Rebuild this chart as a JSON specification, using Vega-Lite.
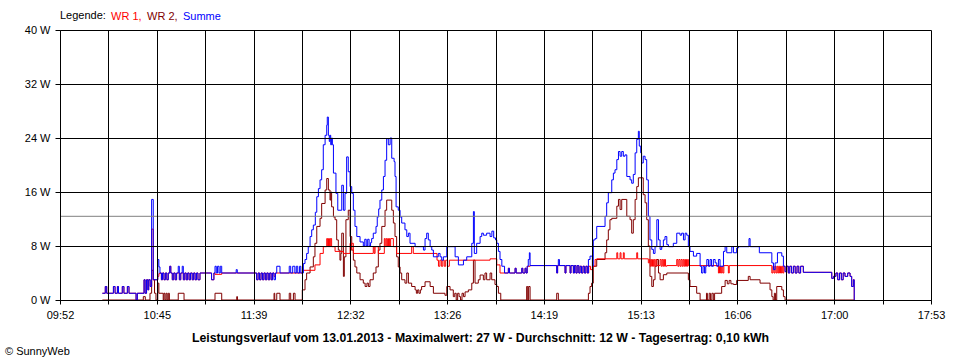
{
 "$schema": "https://vega.github.io/schema/vega-lite/v6.json",
 "width": 871,
 "height": 270,
 "autosize": "none",
 "padding": {"left": 60, "top": 30, "right": 29, "bottom": 60},
 "background": "white",
 "config": {"font": "Liberation Sans", "view": {"stroke": null}},
 "title": {"text": "© SunnyWeb", "orient": "bottom", "anchor": "start", "frame": "group", "fontSize": 11, "fontWeight": "normal", "color": "black", "offset": 3, "dx": -55},
 "datasets": {
  "S": [{"t":615.4,"w":1},{"t":617,"w":2},{"t":617.8,"w":1},{"t":621.5,"w":2},{"t":622.4,"w":1},{"t":623.7,"w":2},{"t":624.3,"w":1},{"t":626.4,"w":2},{"t":627.3,"w":1},{"t":629.2,"w":2},{"t":630.1,"w":1},{"t":634,"w":0},{"t":634.7,"w":1},{"t":638.4,"w":3},{"t":639,"w":1},{"t":639.8,"w":3},{"t":640.5,"w":1.5},{"t":641,"w":3},{"t":641.8,"w":2},{"t":642.6,"w":14.9},{"t":643.5,"w":3},{"t":646,"w":6},{"t":646.6,"w":4.9},{"t":647.2,"w":4},{"t":648,"w":3},{"t":648.6,"w":4},{"t":649.4,"w":3},{"t":650.2,"w":4},{"t":651,"w":3},{"t":651.8,"w":4},{"t":652.6,"w":5},{"t":653.2,"w":4},{"t":654,"w":3},{"t":654.8,"w":4},{"t":655.6,"w":3},{"t":656.4,"w":4},{"t":657.3,"w":5},{"t":657.9,"w":3},{"t":658.7,"w":4},{"t":659.5,"w":5},{"t":660.1,"w":3},{"t":660.9,"w":4},{"t":661.7,"w":3},{"t":662.5,"w":4},{"t":663.3,"w":3},{"t":664.1,"w":4},{"t":665,"w":3},{"t":665.8,"w":4},{"t":666.6,"w":3},{"t":667.4,"w":4},{"t":668.2,"w":3},{"t":669.3,"w":4},{"t":675.7,"w":3},{"t":677,"w":4},{"t":677.6,"w":5},{"t":678.3,"w":4},{"t":679,"w":5},{"t":679.8,"w":4},{"t":680.5,"w":5},{"t":681.3,"w":4},{"t":689.3,"w":4.5},{"t":689.9,"w":4},{"t":700.6,"w":3},{"t":701.4,"w":4},{"t":702.2,"w":3},{"t":703,"w":4},{"t":703.8,"w":3},{"t":704.6,"w":4},{"t":705.4,"w":3},{"t":706.2,"w":4},{"t":707,"w":3},{"t":707.8,"w":4},{"t":708.6,"w":3},{"t":709.4,"w":4},{"t":710.2,"w":3},{"t":711,"w":4},{"t":711.7,"w":5},{"t":713.5,"w":4},{"t":718.6,"w":5},{"t":719.4,"w":4},{"t":720.5,"w":5},{"t":721.7,"w":4},{"t":722.5,"w":5},{"t":723.3,"w":4},{"t":724.3,"w":5},{"t":725,"w":4},
   {"t":726.4,"w":5.4},{"t":727.3,"w":6},{"t":728.2,"w":6.9},{"t":729.1,"w":7.9},{"t":730.1,"w":9.4},{"t":731,"w":10.4},{"t":731.9,"w":11.1},{"t":733,"w":13},{"t":733.8,"w":15.3},{"t":734.7,"w":16.5},{"t":735.6,"w":17.8},{"t":736.5,"w":19.3},{"t":737.4,"w":23},{"t":738.4,"w":24.4},{"t":739.3,"w":25.9},{"t":739.6,"w":27.1},{"t":740.2,"w":24.4},{"t":740.7,"w":23.5},{"t":741.1,"w":24.4},{"t":741.5,"w":23},{"t":742,"w":24},{"t":742.4,"w":23},{"t":743,"w":18.8},{"t":744.4,"w":15.8},{"t":745.4,"w":13.3},{"t":747.6,"w":17},{"t":748.5,"w":13.3},{"t":749.4,"w":15.8},{"t":750.3,"w":21.2},{"t":751.2,"w":19},{"t":752.2,"w":16.8},{"t":753.1,"w":15.8},{"t":754,"w":13.3},{"t":754.9,"w":10.9},{"t":755.9,"w":9.4},{"t":757.7,"w":8.6},{"t":759.5,"w":8},{"t":760.3,"w":9},{"t":761.1,"w":8},{"t":761.9,"w":9},{"t":762.7,"w":8},{"t":763.5,"w":8.5},{"t":764.1,"w":9.1},{"t":765,"w":9.9},{"t":766.5,"w":10.9},{"t":767.2,"w":12.3},{"t":768,"w":13.5},{"t":768.7,"w":14.8},{"t":769.7,"w":16.3},{"t":770.6,"w":18.3},{"t":771.5,"w":20.7},{"t":772.4,"w":23.9},{"t":773.3,"w":23},{"t":774.3,"w":24},{"t":775.2,"w":21},{"t":776.5,"w":20.5},{"t":777,"w":18.3},{"t":777.6,"w":13.8},{"t":778.8,"w":13.3},{"t":779.8,"w":12.3},{"t":780.7,"w":11.4},{"t":782.5,"w":10.4},{"t":783.5,"w":9.4},{"t":784.4,"w":9.9},{"t":785.3,"w":8.4},{"t":788.1,"w":7.9},{"t":792.7,"w":7.4},{"t":793.6,"w":9.1},{"t":794.5,"w":9.9},{"t":795.4,"w":8.9},{"t":796.4,"w":7.9},{"t":797.3,"w":7.4},{"t":798.2,"w":6.4},{"t":800.9,"w":6.9},{"t":801.9,"w":6.4},{"t":802.8,"w":5.9},{"t":803.7,"w":6.4},{"t":805.6,"w":7.9},{"t":810.2,"w":6.4},{"t":812,"w":5.2},{"t":814.8,"w":5.9},{"t":816.6,"w":6.4},{"t":819.4,"w":8.4},{"t":820.3,"w":13.1},{"t":820.8,"w":6.9},{"t":822.1,"w":8.4},{"t":824,"w":9.4},{"t":824.9,"w":9.9},{"t":825.8,"w":9.6},{"t":827.6,"w":9.9},{"t":829.5,"w":9.4},{"t":830.5,"w":10.2},{"t":831.5,"w":9.2},{"t":832.5,"w":8.9},{"t":833.2,"w":8.4},{"t":834.1,"w":7.2},{"t":835,"w":6},{"t":836,"w":5},{"t":837.5,"w":4},{"t":839.6,"w":4.7},{"t":840.2,"w":4},{"t":843.3,"w":4.7},{"t":843.9,"w":4},{"t":847,"w":4.7},{"t":847.6,"w":4},{"t":848.8,"w":4.7},{"t":849.4,"w":4},{"t":850,"w":5},{"t":850.6,"w":6},{"t":851.2,"w":7},{"t":851.6,"w":5.1},{"t":866.3,"w":4},{"t":866.8,"w":5.1},{"t":867.2,"w":6},{"t":867.8,"w":5.1},{"t":870.9,"w":4},{"t":871.4,"w":5.1},{"t":873.7,"w":4},{"t":874.2,"w":5.1},{"t":875.5,"w":4},{"t":876.1,"w":5.1},{"t":876.9,"w":4},{"t":877.6,"w":5.1},{"t":878.5,"w":4},{"t":879.2,"w":5},{"t":880,"w":4},{"t":880.8,"w":5},{"t":881.6,"w":4},{"t":882.4,"w":5},{"t":883.2,"w":4},{"t":883.8,"w":6},{"t":884.7,"w":6.5},{"t":886,"w":5},{"t":886.5,"w":8.9},{"t":887.5,"w":9.1},{"t":888.4,"w":10.9},{"t":893,"w":12.4},{"t":893.9,"w":14.4},{"t":894.8,"w":15.9},{"t":896.7,"w":17.8},{"t":897.6,"w":18.8},{"t":898.5,"w":19.3},{"t":899.5,"w":20.8},{"t":900.4,"w":22},{"t":901.3,"w":21.3},{"t":902.2,"w":22},{"t":903.1,"w":21.3},{"t":904,"w":21.5},{"t":905,"w":18.3},{"t":906.8,"w":17.8},{"t":907.7,"w":17.3},{"t":908.6,"w":18.6},{"t":909.6,"w":21.8},{"t":910.5,"w":23.8},{"t":911.4,"w":25},{"t":911.9,"w":22.8},{"t":912.7,"w":21.8},{"t":913.2,"w":20.3},{"t":914.1,"w":21.3},{"t":915.1,"w":20.8},{"t":916,"w":17.8},{"t":916.9,"w":12.4},{"t":917.8,"w":8.9},{"t":918.8,"w":7.5},{"t":919.7,"w":6.9},{"t":920.6,"w":7.9},{"t":921.6,"w":11.9},{"t":922.5,"w":8.9},{"t":923.4,"w":7.5},{"t":924.3,"w":7.9},{"t":925.2,"w":8.9},{"t":926.1,"w":9.4},{"t":927.1,"w":8.2},{"t":928,"w":7.9},{"t":930.7,"w":8.4},{"t":932.6,"w":9.9},{"t":934.4,"w":9.6},{"t":935.3,"w":9.9},{"t":936.3,"w":8.9},{"t":937.2,"w":9.9},{"t":938.1,"w":9.6},{"t":939,"w":7.9},{"t":939.9,"w":7.2},{"t":941.8,"w":6.5},{"t":943.6,"w":6.9},{"t":945.5,"w":5},{"t":946.3,"w":4},{"t":947.1,"w":5},{"t":947.9,"w":4},{"t":948.6,"w":5},{"t":949.2,"w":6},{"t":950.1,"w":5},{"t":951,"w":6},{"t":951.8,"w":5},{"t":952.8,"w":6},{"t":953.8,"w":5.5},{"t":954.7,"w":5},{"t":955.6,"w":6},{"t":956.5,"w":5},{"t":958.4,"w":7.2},{"t":959.3,"w":7.9},{"t":960.2,"w":7},{"t":963,"w":7.9},{"t":963.9,"w":7},{"t":965.7,"w":7.7},{"t":966.6,"w":7.9},{"t":972.5,"w":9.1},{"t":973.1,"w":7.9},{"t":978.2,"w":7},{"t":985.1,"w":5.5},{"t":986,"w":4.5},{"t":986.9,"w":5.5},{"t":988.2,"w":7},{"t":990.6,"w":6.5},{"t":991.5,"w":5},{"t":992.4,"w":4.2},{"t":993.3,"w":5},{"t":994.2,"w":4},{"t":995,"w":5},{"t":996,"w":4},{"t":997,"w":5},{"t":998,"w":4},{"t":999,"w":5},{"t":1000,"w":4},{"t":1001,"w":5},{"t":1002.5,"w":4.1},{"t":1018.2,"w":3.2},{"t":1019.1,"w":3.5},{"t":1020.5,"w":4},{"t":1021.5,"w":3},{"t":1022.5,"w":4},{"t":1023.5,"w":3},{"t":1024.5,"w":4},{"t":1025.5,"w":3.5},{"t":1027,"w":4},{"t":1028.3,"w":3.5},{"t":1029.2,"w":2},{"t":1030.1,"w":3},{"t":1030.6,"w":0}],
  "W1": [{"t":615.4,"w":1},{"t":617,"w":2},{"t":617.8,"w":1},{"t":621.5,"w":2},{"t":622.4,"w":1},{"t":623.7,"w":2},{"t":624.3,"w":1},{"t":626.4,"w":2},{"t":627.3,"w":1},{"t":629.2,"w":2},{"t":630.1,"w":1},{"t":634,"w":0},{"t":634.7,"w":1},{"t":638.4,"w":3},{"t":639,"w":1},{"t":639.8,"w":3},{"t":640.5,"w":1.5},{"t":641,"w":3},{"t":641.8,"w":2},{"t":642.6,"w":10.5},{"t":643.5,"w":3},{"t":646,"w":3.5},{"t":646.6,"w":3.9},{"t":647.2,"w":4},{"t":648,"w":3},{"t":648.6,"w":4},{"t":649.4,"w":3},{"t":650.2,"w":4},{"t":651,"w":3},{"t":651.8,"w":4},{"t":652.6,"w":5},{"t":653.2,"w":4},{"t":654,"w":3},{"t":654.8,"w":4},{"t":655.6,"w":3},{"t":656.4,"w":4},{"t":657.3,"w":4},{"t":657.9,"w":3},{"t":658.7,"w":4},{"t":659.5,"w":4},{"t":660.1,"w":3},{"t":660.9,"w":4},{"t":661.7,"w":3},{"t":662.5,"w":4},{"t":663.3,"w":3},{"t":664.1,"w":4},{"t":665,"w":3},{"t":665.8,"w":4},{"t":666.6,"w":3},{"t":667.4,"w":4},{"t":668.2,"w":3},{"t":669.3,"w":4},{"t":675.7,"w":3},{"t":677,"w":4},{"t":677.6,"w":3.8},{"t":681.3,"w":4},{"t":700.6,"w":3},{"t":701.4,"w":4},{"t":702.2,"w":3},{"t":703,"w":4},{"t":703.8,"w":3},{"t":704.6,"w":4},{"t":705.4,"w":3},{"t":706.2,"w":4},{"t":707,"w":3},{"t":707.8,"w":4},{"t":708.6,"w":3},{"t":709.4,"w":4},{"t":710.2,"w":3.5},{"t":711,"w":4},{"t":725,"w":4},
   {"t":725.8,"w":4.4},{"t":732.8,"w":5.2},{"t":735.6,"w":6.9},{"t":737.4,"w":7.9},{"t":739.3,"w":9.1},{"t":739.8,"w":7.9},{"t":740.3,"w":9.1},{"t":740.8,"w":7.9},{"t":741.3,"w":9.1},{"t":742,"w":7.9},{"t":743.9,"w":7.2},{"t":748.5,"w":6.9},{"t":752.2,"w":8.4},{"t":752.6,"w":7.4},{"t":753.1,"w":8.4},{"t":754,"w":6.9},{"t":765,"w":7.9},{"t":765.5,"w":6.9},{"t":766,"w":7.9},{"t":767.8,"w":6.9},{"t":771.1,"w":9.1},{"t":771.6,"w":7.9},{"t":772.2,"w":9.1},{"t":772.8,"w":8},{"t":773.4,"w":9.1},{"t":774,"w":8},{"t":774.6,"w":9.1},{"t":776.1,"w":7.9},{"t":777.9,"w":6.9},{"t":786.2,"w":7.9},{"t":787.1,"w":6.9},{"t":800.2,"w":5.9},{"t":801,"w":5},{"t":801.8,"w":5.9},{"t":802.6,"w":5},{"t":803.4,"w":5.9},{"t":804.2,"w":5},{"t":805,"w":5.9},{"t":806,"w":5},{"t":807,"w":5.9},{"t":829.5,"w":6.1},{"t":833.2,"w":5.2},{"t":835,"w":4},{"t":839.6,"w":4.7},{"t":840.2,"w":4},{"t":843.3,"w":4.7},{"t":843.9,"w":4},{"t":847,"w":4.7},{"t":847.6,"w":4},{"t":848.8,"w":4.7},{"t":849.4,"w":4},{"t":850,"w":5},{"t":851.6,"w":5.1},{"t":866.3,"w":4},{"t":866.8,"w":5.1},{"t":870.9,"w":4},{"t":871.4,"w":5.1},{"t":873.7,"w":4},{"t":874.2,"w":5.1},{"t":875.5,"w":4},{"t":876.1,"w":5.1},{"t":876.9,"w":4},{"t":877.6,"w":5.1},{"t":878.5,"w":4},{"t":879.2,"w":5},{"t":880,"w":4},{"t":880.8,"w":5},{"t":881.6,"w":4},{"t":882.4,"w":5},{"t":883.2,"w":4},{"t":884,"w":5},{"t":885,"w":4.5},{"t":886,"w":5},{"t":887.5,"w":6},{"t":888.4,"w":6.1},{"t":899.5,"w":7},{"t":900,"w":6.1},{"t":901.3,"w":7},{"t":901.8,"w":6.1},{"t":903.1,"w":7},{"t":903.6,"w":6.1},{"t":910.5,"w":7},{"t":911,"w":6.1},{"t":916.9,"w":5.5},{"t":917.5,"w":6},{"t":918,"w":5},{"t":918.6,"w":6},{"t":919.2,"w":5},{"t":919.8,"w":6},{"t":920.4,"w":5},{"t":921,"w":6},{"t":921.6,"w":5.1},{"t":923.4,"w":6},{"t":924,"w":5},{"t":924.6,"w":6},{"t":925.2,"w":5},{"t":925.8,"w":6},{"t":926.4,"w":5},{"t":927.1,"w":5.1},{"t":932.6,"w":6},{"t":933.2,"w":5},{"t":933.8,"w":6},{"t":934.4,"w":5},{"t":935,"w":6},{"t":935.6,"w":5},{"t":936.2,"w":6},{"t":936.8,"w":5},{"t":937.4,"w":6},{"t":938,"w":5},{"t":938.6,"w":6},{"t":939,"w":5.1},{"t":955.6,"w":4},{"t":956.2,"w":5},{"t":956.8,"w":4},{"t":957.4,"w":5},{"t":958,"w":4},{"t":958.6,"w":5.1},{"t":961.1,"w":4},{"t":961.6,"w":5.1},{"t":985.1,"w":4},{"t":985.7,"w":5},{"t":986.3,"w":4},{"t":986.9,"w":5},{"t":987.5,"w":4},{"t":988.1,"w":5},{"t":988.7,"w":4},{"t":989.3,"w":5},{"t":989.9,"w":4},{"t":990.5,"w":5},{"t":991.1,"w":4},{"t":991.7,"w":5},{"t":992.4,"w":4.2},{"t":993.3,"w":5},{"t":994.2,"w":4},{"t":995,"w":5},{"t":996,"w":4},{"t":997,"w":5},{"t":998,"w":4},{"t":999,"w":5},{"t":1000,"w":4},{"t":1001,"w":5},{"t":1002.5,"w":4.1},{"t":1018.2,"w":3.2},{"t":1019.1,"w":3.5},{"t":1020.5,"w":4},{"t":1021.5,"w":3},{"t":1022.5,"w":4},{"t":1023.5,"w":3},{"t":1024.5,"w":4},{"t":1025.5,"w":3.5},{"t":1027,"w":4},{"t":1028.3,"w":3.5},{"t":1029.2,"w":2},{"t":1030.1,"w":3},{"t":1030.6,"w":0}],
  "W2": [{"t":615.4,"w":0},{"t":638,"w":0.5},{"t":639.1,"w":0},{"t":641.7,"w":1},{"t":642.6,"w":4.4},{"t":643.5,"w":3},{"t":644.2,"w":1},{"t":645,"w":0},{"t":646,"w":2.5},{"t":646.6,"w":1},{"t":649,"w":0},{"t":649.4,"w":1},{"t":650,"w":0},{"t":650.6,"w":1},{"t":651.2,"w":0},{"t":651.8,"w":1},{"t":652.4,"w":0},{"t":657.3,"w":1},{"t":660.5,"w":0},{"t":677.6,"w":1},{"t":681.3,"w":0},{"t":689.6,"w":0.5},{"t":690,"w":0},{"t":710.2,"w":1},{"t":710.6,"w":0},{"t":711.7,"w":1},{"t":713.5,"w":0},{"t":718.6,"w":1},{"t":719.4,"w":0},{"t":720.9,"w":1},{"t":721.8,"w":0},{"t":725.8,"w":1.5},{"t":727.3,"w":3},{"t":728.2,"w":4},{"t":730.1,"w":4.9},{"t":731.9,"w":6.4},{"t":732.8,"w":8.4},{"t":733.8,"w":10.9},{"t":735.6,"w":12.1},{"t":736.5,"w":14.3},{"t":738.4,"w":16.3},{"t":739.3,"w":18},{"t":740.2,"w":16.3},{"t":741.1,"w":14.8},{"t":741.5,"w":16},{"t":742,"w":13.8},{"t":743,"w":12.3},{"t":743.9,"w":11.9},{"t":744.8,"w":8.9},{"t":745.7,"w":7.4},{"t":746.6,"w":5.9},{"t":747.1,"w":6.9},{"t":747.6,"w":9.9},{"t":748.5,"w":3.5},{"t":749,"w":6.4},{"t":749.9,"w":11.9},{"t":751.2,"w":13.3},{"t":752.2,"w":9.4},{"t":753.1,"w":7.4},{"t":754,"w":5.9},{"t":754.9,"w":4.9},{"t":755.9,"w":4},{"t":757.7,"w":3},{"t":759.5,"w":2.5},{"t":760.5,"w":2},{"t":761.5,"w":2.5},{"t":762.3,"w":2},{"t":763.2,"w":3},{"t":765,"w":4},{"t":766.5,"w":4.9},{"t":767.8,"w":7.4},{"t":768.7,"w":8.4},{"t":769.7,"w":10.9},{"t":771.5,"w":13.3},{"t":772.4,"w":14.8},{"t":775.2,"w":13.3},{"t":776.1,"w":11.4},{"t":777,"w":9.4},{"t":777.9,"w":6.4},{"t":778.8,"w":4.9},{"t":779.8,"w":4},{"t":780.7,"w":3},{"t":782.5,"w":2.5},{"t":783.5,"w":4},{"t":784.4,"w":2.5},{"t":786.2,"w":2},{"t":788.1,"w":1.5},{"t":788.8,"w":1},{"t":789.5,"w":1.5},{"t":790.2,"w":1},{"t":791,"w":1.5},{"t":791.7,"w":2},{"t":793.6,"w":2.7},{"t":796.4,"w":2},{"t":798.2,"w":1},{"t":804.6,"w":0.7},{"t":805.6,"w":2},{"t":807.4,"w":1.5},{"t":809.2,"w":0.5},{"t":810,"w":1},{"t":810.8,"w":0},{"t":811.6,"w":1},{"t":812.4,"w":0.5},{"t":813.2,"w":0},{"t":814,"w":1},{"t":814.8,"w":0.5},{"t":815.7,"w":1.2},{"t":817.5,"w":1.5},{"t":819.4,"w":2.5},{"t":820.3,"w":5.9},{"t":821.2,"w":2.5},{"t":823,"w":3},{"t":824,"w":3.7},{"t":825.8,"w":3},{"t":826.7,"w":4},{"t":827.6,"w":3},{"t":829.5,"w":4},{"t":830.4,"w":3},{"t":832.2,"w":2.3},{"t":833.2,"w":2},{"t":834.1,"w":1},{"t":835.4,"w":0},{"t":849.7,"w":2},{"t":850.3,"w":0},{"t":850.8,"w":2},{"t":851.6,"w":0},{"t":866.3,"w":1},{"t":867.2,"w":0},{"t":883.8,"w":1},{"t":884.7,"w":2},{"t":885.6,"w":2.5},{"t":886.5,"w":5},{"t":888.4,"w":6},{"t":893,"w":7},{"t":893.9,"w":8.9},{"t":894.8,"w":10.4},{"t":895.7,"w":11.9},{"t":896.7,"w":12.1},{"t":899.5,"w":13.9},{"t":900.4,"w":14.9},{"t":901.3,"w":13.4},{"t":902.2,"w":14.9},{"t":905,"w":12.4},{"t":906.8,"w":11.9},{"t":907.7,"w":9.9},{"t":908.6,"w":11.9},{"t":909.6,"w":14.9},{"t":910.5,"w":16.8},{"t":911.4,"w":18.1},{"t":914.1,"w":15.6},{"t":915.1,"w":14.4},{"t":916,"w":11.9},{"t":916.9,"w":8},{"t":917.8,"w":3.5},{"t":918.8,"w":2},{"t":919.7,"w":3},{"t":920.6,"w":5},{"t":921.6,"w":6},{"t":922.5,"w":4},{"t":923.4,"w":3},{"t":925.2,"w":3.75},{"t":927.1,"w":4},{"t":939,"w":3},{"t":939.9,"w":2},{"t":943.6,"w":1},{"t":945.5,"w":0},{"t":949,"w":1},{"t":949.5,"w":0},{"t":950.5,"w":1},{"t":951.2,"w":0},{"t":952,"w":1},{"t":952.8,"w":0},{"t":953.5,"w":1},{"t":957.4,"w":2},{"t":959.3,"w":2.9},{"t":960.5,"w":2.4},{"t":961.5,"w":2.9},{"t":962.5,"w":2.4},{"t":963.9,"w":2.3},{"t":965.7,"w":2.9},{"t":972.1,"w":3.5},{"t":973.1,"w":3},{"t":978.6,"w":2.5},{"t":984.1,"w":1.5},{"t":985.1,"w":0.5},{"t":985.8,"w":0},{"t":986.5,"w":1},{"t":987.1,"w":0},{"t":987.8,"w":2},{"t":990.6,"w":1.5},{"t":991.5,"w":0.5},{"t":992.4,"w":0},{"t":1030.6,"w":0}]
 },
 "layer": [
  {
   "data": {"name": "W2"},
   "mark": {"type": "line", "interpolate": "step-after", "strokeWidth": 1},
   "encoding": {
    "x": {"field": "t", "type": "quantitative", "scale": {"domain": [592, 1073], "nice": false, "zero": false},
     "axis": {"values": [592, 618.7222, 645.4444, 672.1667, 698.8889, 725.6111, 752.3333, 779.0556, 805.7778, 832.5, 859.2222, 885.9444, 912.6667, 939.3889, 966.1111, 992.8333, 1019.5556, 1046.2778, 1073],
      "labelExpr": "round((datum.value-592)/26.7222) % 2 == 0 ? ((floor(round(datum.value)/60) < 10 ? '0' : '') + floor(round(datum.value)/60) + ':' + (round(datum.value) % 60 < 10 ? '0' : '') + (round(datum.value) % 60)) : ''",
      "grid": true, "gridColor": "black", "gridOpacity": 1, "gridWidth": 1,
      "domainColor": "black", "domainWidth": 1, "tickColor": "black", "tickSize": 4, "tickWidth": 1,
      "labelFontSize": 11, "labelColor": "black", "labelPadding": 5, "labelFlush": false, "labelOverlap": false,
      "title": "Leistungsverlauf vom 13.01.2013 - Maximalwert: 27 W - Durchschnitt: 12 W - Tagesertrag: 0,10 kWh",
      "titleFontSize": 12.3, "titleFontWeight": "bold", "titleColor": "black", "titlePadding": 11, "titleX": 420, "titleAnchor": "middle", "zindex": 1}},
    "y": {"field": "w", "type": "quantitative", "scale": {"domain": [0, 40], "nice": false},
     "axis": {"values": [0, 8, 16, 24, 32, 40], "labelExpr": "datum.value + ' W'", "grid": true, "gridColor": "black", "gridOpacity": 1, "gridWidth": 1,
      "domainColor": "black", "tickColor": "black", "tickSize": 5, "labelFontSize": 11, "labelColor": "black", "labelPadding": 5, "title": null, "zindex": 1}},
    "color": {"datum": "WR 2", "type": "nominal",
     "scale": {"domain": ["WR 1", "WR 2", "Summe"], "range": ["#FF0000", "#800000", "#0000FF"]},
     "legend": {"orient": "none", "legendX": 0, "legendY": -19, "direction": "horizontal",
      "title": "Legende:", "titleOrient": "left", "titleFontSize": 11, "titleFontWeight": "normal", "titleColor": "black", "titlePadding": 4,
      "symbolType": "circle", "symbolSize": 0, "symbolOpacity": 0, "symbolStrokeWidth": 0, "labelOffset": -10, "columnPadding": 4, "labelFontSize": 11,
      "labelExpr": "datum.label == 'Summe' ? datum.label : datum.label + ','",
      "encode": {"labels": {"update": {"fill": {"scale": "color", "field": "value"}}}}}}
   }
  },
  {
   "data": {"name": "W1"},
   "mark": {"type": "line", "interpolate": "step-after", "strokeWidth": 1},
   "encoding": {
    "x": {"field": "t", "type": "quantitative"},
    "y": {"field": "w", "type": "quantitative"},
    "color": {"datum": "WR 1", "type": "nominal"}
   }
  },
  {
   "data": {"name": "S"},
   "mark": {"type": "line", "interpolate": "step-after", "strokeWidth": 1},
   "encoding": {
    "x": {"field": "t", "type": "quantitative"},
    "y": {"field": "w", "type": "quantitative"},
    "color": {"datum": "Summe", "type": "nominal"}
   }
  },
  {
   "data": {"values": [{}]},
   "mark": {"type": "rule", "color": "#808080", "strokeWidth": 1},
   "encoding": {"y": {"datum": 12.4, "type": "quantitative"}}
  }
 ]
}
